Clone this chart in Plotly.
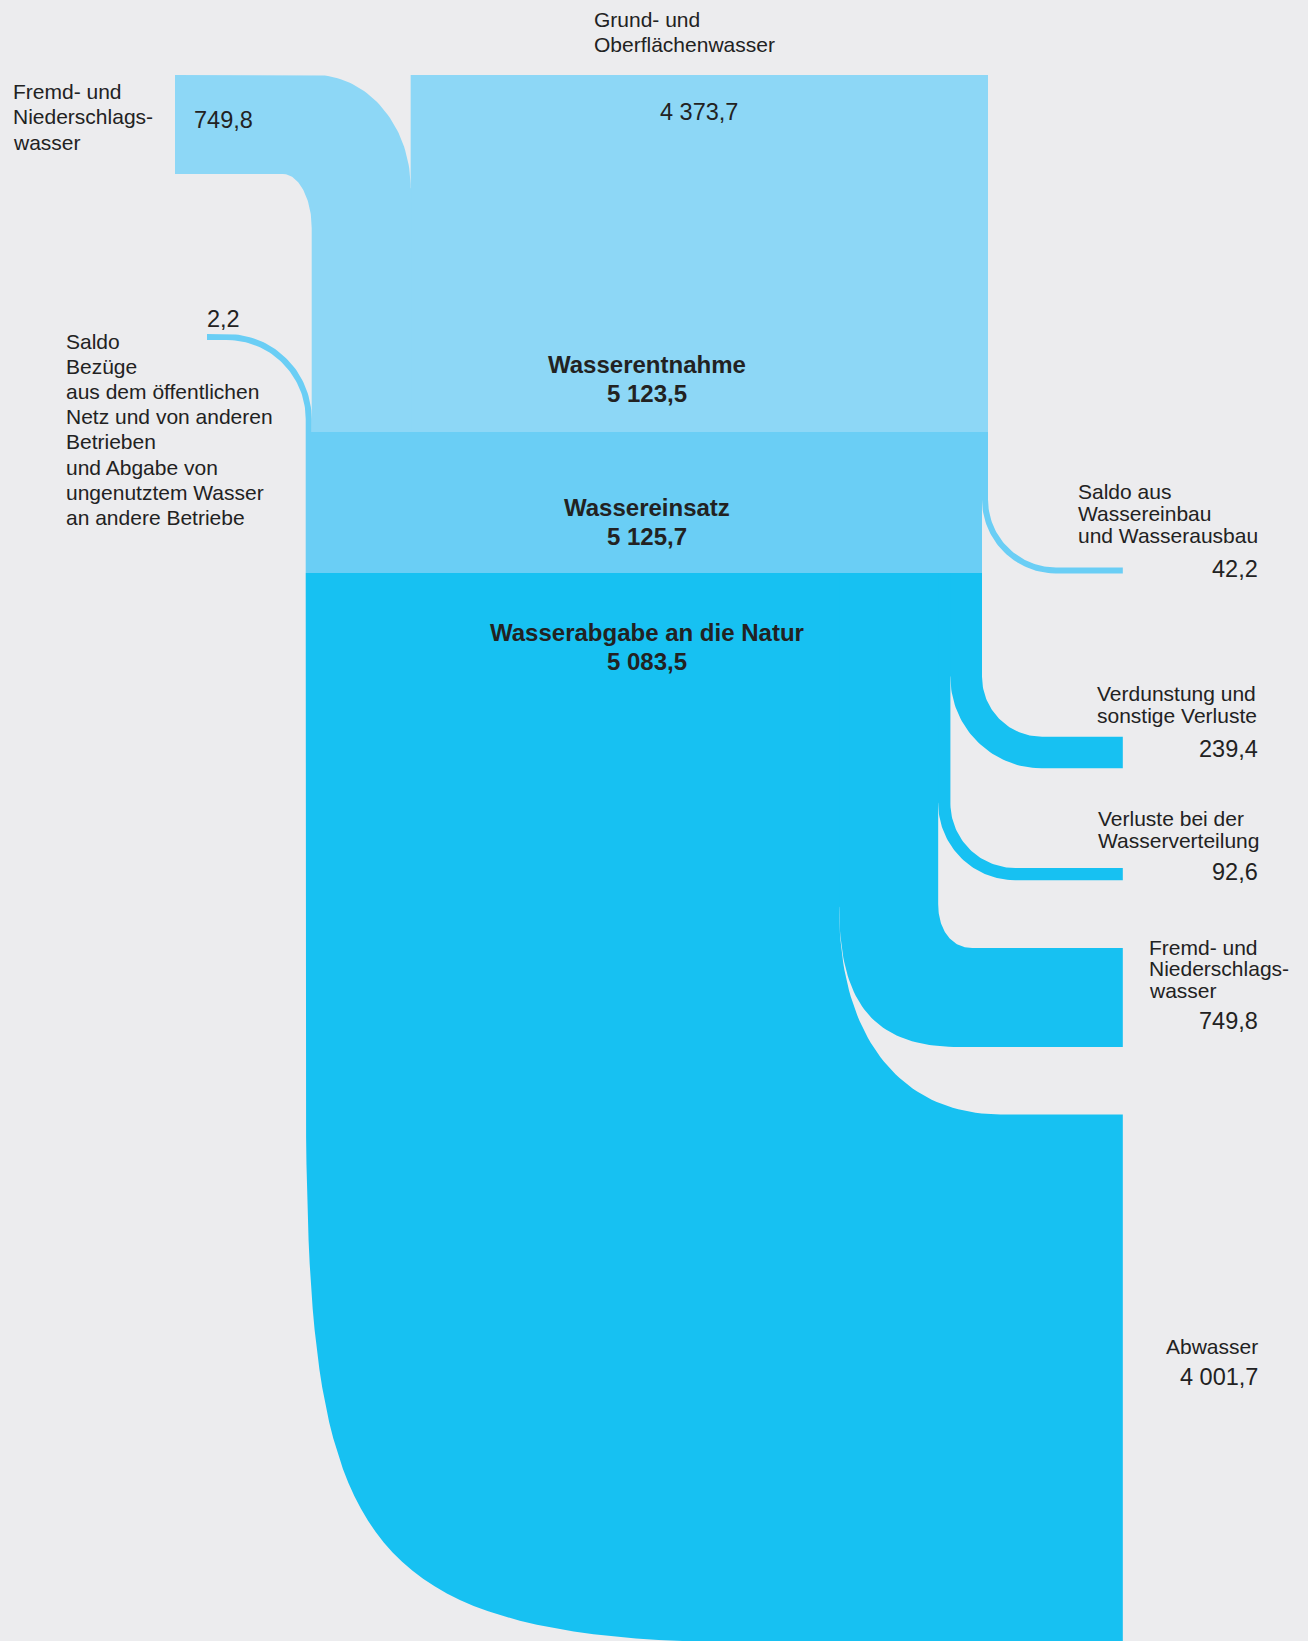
import numpy as np
import plotly.graph_objects as go

## values in Mio. m3
inflow_labels = [
    ["Grund- und", "Oberflächenwasser"],
    ["Fremd- und", "Niederschlags-", "wasser"],
    ["Saldo", "Bezüge", "aus dem öffentlichen", "Netz und von anderen", "Betrieben",
     "und Abgabe von", "ungenutztem Wasser", "an andere Betriebe"],
]
inflow_values = [4373.7, 749.8, 2.2]

stage_labels = ["Wasserentnahme", "Wassereinsatz", "Wasserabgabe an die Natur"]
stage_values = [5123.5, 5125.7, 5083.5]

outflow_labels = [
    ["Saldo aus", "Wassereinbau", "und Wasserausbau"],
    ["Verdunstung und", "sonstige Verluste"],
    ["Verluste bei der", "Wasserverteilung"],
    ["Fremd- und", "Niederschlags-", "wasser"],
    ["Abwasser"],
]
outflow_values = [42.2, 239.4, 92.6, 749.8, 4001.7]

## look
BG = "#ECECEE"
C_ENTN = "#8DD7F6"
C_EINS = "#6ACEF5"
C_NATUR = "#17C1F2"
INK = "#222222"
FONT = "Liberation Sans, Arial, sans-serif"

## geometry (page pixels)
K = 0.132          # px per Mio. m3
MIN_W = 6          # thin flows still visible
X_RIGHT = 988
Y_TOP = 75
Y_ENTN = 432       # end of Wasserentnahme
Y_EINS = 573       # end of Wassereinsatz
X_END = 1122.8     # right end of outgoing flows
OVL = 1.2          # overlap between neighbouring shapes, hides seams
KAP = 0.5523       # quarter ellipse


def wd(v):
    return max(v * K, MIN_W)


def fmt(v):
    return f"{v:,.1f}".replace(",", " ").replace(".", ",")


def bez(p0, p1, p2, p3, n=48):
    t = np.linspace(0, 1, n)[:, None]
    p0, p1, p2, p3 = map(np.array, (p0, p1, p2, p3))
    pts = (1 - t) ** 3 * p0 + 3 * (1 - t) ** 2 * t * p1 + 3 * (1 - t) * t ** 2 * p2 + t ** 3 * p3
    return list(pts[:, 0]), list(pts[:, 1])


def down_then_right(x0, y0, x1, y1, kv=KAP, kh=KAP):
    return bez((x0, y0), (x0, y0 + kv * (y1 - y0)), (x1 - kh * (x1 - x0), y1), (x1, y1))


def right_then_down(x0, y0, x1, y1, kh=KAP, kv=KAP):
    return bez((x0, y0), (x0 + kh * (x1 - x0), y0), (x1, y1 - kv * (y1 - y0)), (x1, y1))


fig = go.Figure()


def poly(xs, ys, color):
    fig.add_trace(go.Scatter(x=xs + [xs[0]], y=ys + [ys[0]], mode="lines", fill="toself",
                             fillcolor=color, line=dict(width=0), hoverinfo="skip",
                             showlegend=False))


## ---- inflows ----
x_grund = X_RIGHT - wd(inflow_values[0])
x_entn = x_grund - wd(inflow_values[1])
x_eins = x_entn - wd(inflow_values[2])

# Grund- und Oberflächenwasser
poly([x_grund, X_RIGHT, X_RIGHT, x_grund], [Y_TOP, Y_TOP, Y_ENTN, Y_ENTN], C_ENTN)

# Fremd- und Niederschlagswasser (from the left, bending down)
x_start = 175
yb = Y_TOP + wd(inflow_values[1])
ox, oy = right_then_down(x_grund - 96, Y_TOP, x_grund, Y_TOP + 113)
ix, iy = right_then_down(x_entn - 29, yb, x_entn, yb + 54)
top_x = [x_start] + ox + [x_grund + OVL, x_grund + OVL]
top_y = [Y_TOP] + oy + [oy[-1] + 2, Y_ENTN]
bot_x = [x_start] + ix + [x_entn]
bot_y = [yb] + iy + [Y_ENTN]
poly(top_x + bot_x[::-1], top_y + bot_y[::-1], C_ENTN)

# Saldo Bezüge (thin flow)
s_x0, s_y = 207, 334
r_o = 85
r_i = r_o - wd(inflow_values[2])
ox, oy = right_then_down(x_entn - r_o, s_y, x_entn, s_y + r_o)
ix, iy = right_then_down(x_eins - r_i, s_y + wd(inflow_values[2]), x_eins, s_y + r_o)
top_x = [s_x0] + ox + [x_entn]
top_y = [s_y] + oy + [Y_ENTN]
bot_x = [s_x0] + ix + [x_eins]
bot_y = [s_y + wd(inflow_values[2])] + iy + [Y_ENTN]
poly(top_x + bot_x[::-1], top_y + bot_y[::-1], C_EINS)

## ---- outflows ----
# y of upper edge of each horizontal band; inner bend (rx, ry, kv, kh);
# outer bend (rx, ry, kv, kh), None = concentric with inner
out_top = [567.4, 736.7, 868, 948, 1114.4]
inner_b = [(68, 68, KAP, KAP), (60, 60, KAP, KAP), (65, 65, KAP, KAP),
           (34, 44, 0.6, 0.6), (161, 205, 0.62, 0.62)]
outer_b = [None, None, None, (120, 140, 0.7, 0.7), (454, 593, 0.81, 0.946)]

x_natur_r = X_RIGHT - wd(outflow_values[0])
# Wassereinsatz block
poly([x_eins, x_natur_r, x_natur_r, x_eins], [Y_ENTN, Y_ENTN, Y_EINS, Y_EINS], C_EINS)

xr = X_RIGHT
last = len(outflow_values) - 1
for i, v in enumerate(outflow_values):
    w = wd(v)
    xl = x_eins if i == last else xr - w
    y_start = Y_ENTN if i == 0 else Y_EINS
    yt = out_top[i]
    yb = yt + w
    rx, ry, ikv, ikh = inner_b[i]
    if outer_b[i] is None:
        orx, ory, okv, okh = xr + rx - xl, yb - yt + ry, KAP, KAP
    else:
        orx, ory, okv, okh = outer_b[i]
    ix, iy = down_then_right(xr, yt - ry, xr + rx, yt, ikv, ikh)
    ox, oy = down_then_right(xl, yb - ory, xl + orx, yb, okv, okh)
    rx_pts = [xr] + ix + [X_END]
    ry_pts = [y_start] + iy + [yt]
    if i == last:
        lx_pts = [xl] + ox + [X_END]
        ly_pts = [y_start] + oy + [yb]
    else:
        # straight part slightly widened to the left, under the next flow
        lx_pts = [xl - OVL, xl - OVL] + ox + [X_END]
        ly_pts = [y_start, oy[0] - 2] + oy + [yb]
    poly(lx_pts + rx_pts[::-1], ly_pts + ry_pts[::-1], C_EINS if i == 0 else C_NATUR)
    xr = xl

## ---- texts ----
ann = []


def text(s, x, y, size=21, anchor="left", bold=False):
    ann.append(dict(x=x, y=y, xref="x", yref="y", text=f"<b>{s}</b>" if bold else s,
                    showarrow=False, xanchor=anchor, yanchor="middle",
                    font=dict(family=FONT, size=size, color=INK)))


def block(lines, x, y0, step, size=21, anchor="left"):
    for j, s in enumerate(lines):
        text(s, x, y0 + j * step, size, anchor)


# inflow labels
block(inflow_labels[0], 592, 19, 25)
text(fmt(inflow_values[0]), (x_grund + X_RIGHT) / 2, 112, 23.5, "center")
block(inflow_labels[1], 11, 91, 25.5)
text(fmt(inflow_values[1]), 192, 120, 23.5)
block(inflow_labels[2], 64, 341, 25.2)
text(fmt(inflow_values[2]), 205, 319, 23.5)

# stage labels
xc = (x_eins + X_RIGHT) / 2
stage_y = [364, 507.5, 632]
for name, v, y in zip(stage_labels, stage_values, stage_y):
    text(name, xc, y, 24, "center", bold=True)
    text(fmt(v), xc, y + 29, 24, "center", bold=True)

# outflow labels
out_label_x = [1076, 1094.6, 1095.6, 1147, 1163.6]
out_label_y = [491.8, 693.8, 818.3, 947, 1346.7]
out_value_y = [569, 749.2, 871.7, 1021.3, 1377]
for lines, v, lx, ly, vy in zip(outflow_labels, outflow_values, out_label_x, out_label_y, out_value_y):
    block(lines, lx, ly, 21.8)
    text(fmt(v), 1260, vy, 23.5, "right")

fig.update_layout(
    width=1308, height=1641,
    margin=dict(l=0, r=0, t=0, b=0),
    paper_bgcolor=BG, plot_bgcolor=BG,
    xaxis=dict(range=[0, 1308], visible=False, fixedrange=True),
    yaxis=dict(range=[1641, 0], visible=False, fixedrange=True),
    annotations=ann,
    showlegend=False,
)

fig.write_html("out.html", config={"displayModeBar": False},
               post_script="document.body.style.margin='0';")
